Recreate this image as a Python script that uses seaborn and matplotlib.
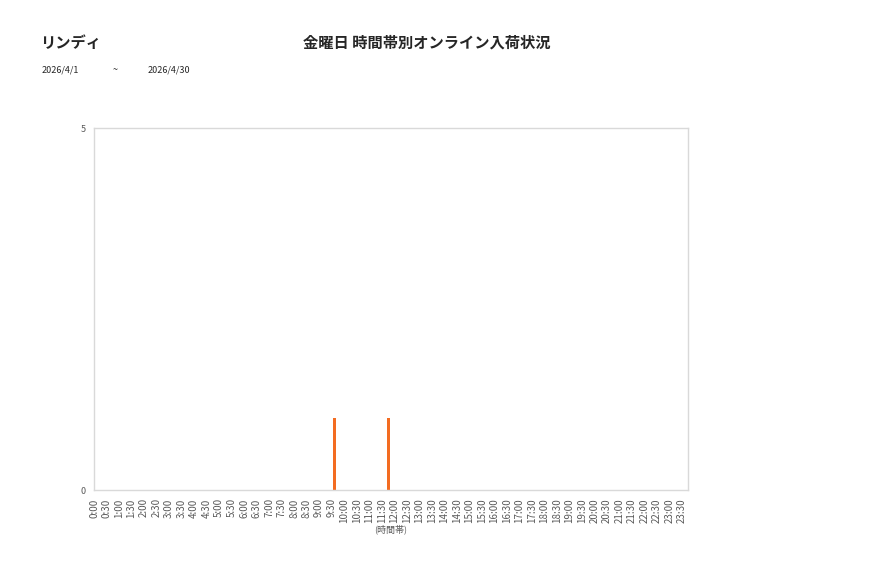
import matplotlib
matplotlib.use("Agg")
import matplotlib.pyplot as plt
import seaborn as sns
import pandas as pd

store_name = "リンディ"
chart_title = "金曜日 時間帯別オンライン入荷状況"
date_from = "2026/4/1"
date_to = "2026/4/30"

# arrival times (hours) and counts
arrival_hours = [9.63, 11.78]
arrival_counts = [1, 1]

tick_labels = [f"{h}:{m:02d}" for h in range(24) for m in (0, 30)]

sns.set_theme(style="white")
plt.rcParams["font.family"] = ["Noto Sans CJK JP", "DejaVu Sans"]

df = pd.DataFrame({"hour": arrival_hours, "count": arrival_counts})

fig = plt.figure(figsize=(8.77, 5.78), dpi=100)
ax = fig.add_axes([0.1072, 0.1522, 0.6773, 0.6263])

sns.barplot(data=df, x="hour", y="count", native_scale=True, width=0.06,
            color="#F36C21", saturation=1, linewidth=0, ax=ax)

ax.set_xlim(0, 23.75)
ax.set_ylim(0, 5)
ax.set_xticks([i * 0.5 for i in range(48)])
ax.set_xticklabels(tick_labels, rotation=90, fontsize=7, color="#595959")
ax.set_yticks([0, 5])
ax.set_yticklabels(["0", "5"], fontsize=6.5, color="#595959")
ax.tick_params(axis="both", length=0, pad=6)
ax.set_xlabel("(時間帯)", fontsize=6.5, color="#595959", labelpad=1)
ax.set_ylabel("")
for side in ax.spines.values():
    side.set_color("#d9d9d9")
    side.set_linewidth(1)

fig.text(40 / 877, 1 - 43 / 578, store_name, fontsize=11, fontweight="bold",
         va="center", ha="left")
fig.text(427 / 877, 1 - 43 / 578, chart_title, fontsize=11, fontweight="bold",
         va="center", ha="center")
fig.text(42 / 877, 1 - 70 / 578, date_from, fontsize=6.5, va="center", ha="left")
fig.text(115 / 877, 1 - 70 / 578, "~", fontsize=6.5, va="center", ha="center")
fig.text(148 / 877, 1 - 70 / 578, date_to, fontsize=6.5, va="center", ha="left")

fig.savefig("out.png", dpi=100)
